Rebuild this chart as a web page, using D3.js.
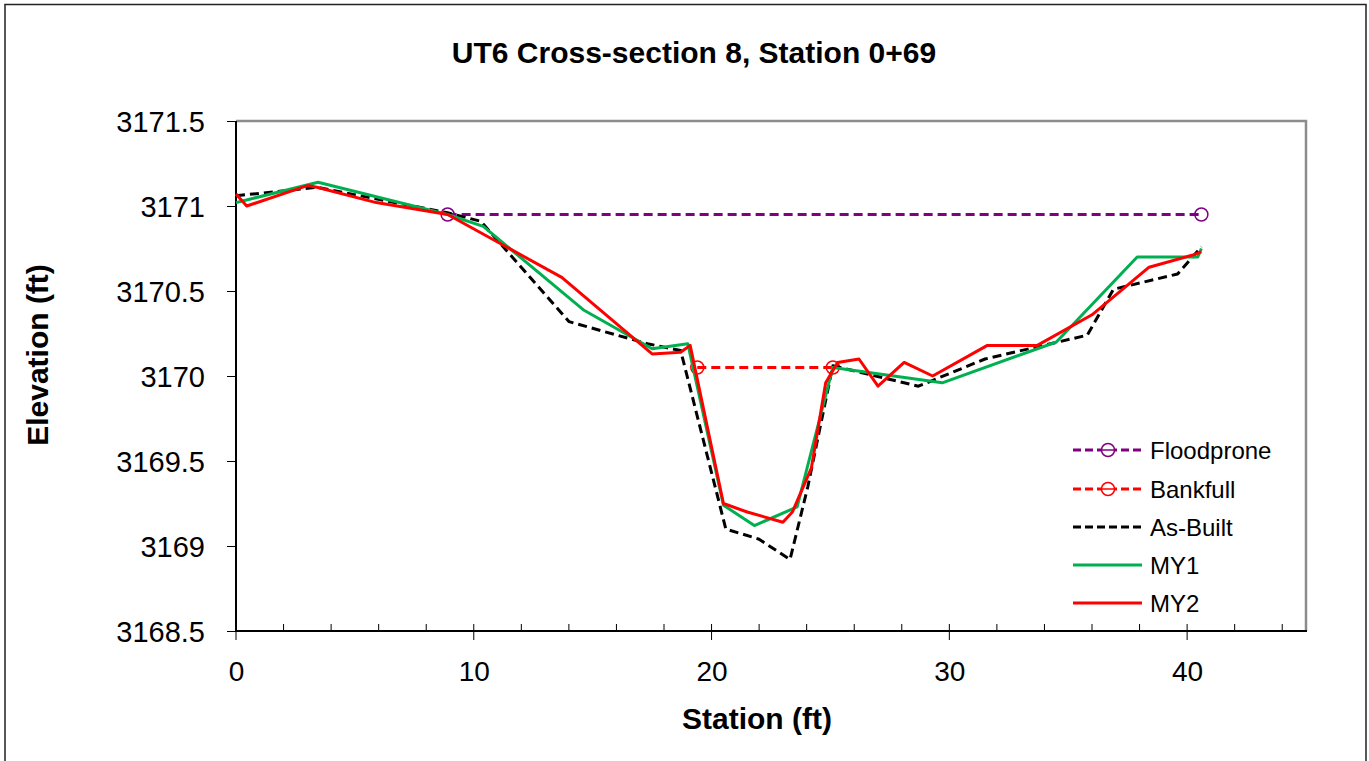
<!DOCTYPE html>
<html>
<head>
<meta charset="utf-8">
<script src="https://cdn.jsdelivr.net/npm/d3@7"></script>
<style>
  html, body { margin: 0; padding: 0; background: #fff; }
  svg { display: block; }
  text { font-family: "Liberation Sans", Arial, sans-serif; }
</style>
</head>
<body>
<script>
// ---- Data ----
const title = "UT6 Cross-section 8, Station 0+69";
const xTitle = "Station (ft)";
const yTitle = "Elevation (ft)";
const xTicks = [0, 10, 20, 30, 40];
const yTicks = [3168.5, 3169, 3169.5, 3170, 3170.5, 3171, 3171.5];
const xDomain = [0, 45];
const yDomain = [3168.5, 3171.5];

const floodprone = [[8.9, 3170.95], [40.6, 3170.95]];
const bankfull = [[19.4, 3170.05], [25.1, 3170.05]];
const asBuilt = [[0, 3171.06], [3.4, 3171.11], [8.9, 3170.96], [10.3, 3170.91], [14.0, 3170.32], [17.3, 3170.19],
  [18.7, 3170.15], [20.6, 3169.1], [22.0, 3169.04], [23.3, 3168.92], [24.05, 3169.35], [25.1, 3170.06],
  [28.7, 3169.94], [31.5, 3170.1], [35.8, 3170.24], [36.9, 3170.51], [39.6, 3170.6], [40.6, 3170.76]];
const my1 = [[0, 3171.02], [3.45, 3171.14], [8.9, 3170.95], [10.4, 3170.88], [14.6, 3170.39], [17.5, 3170.16],
  [19.0, 3170.19], [20.5, 3169.24], [21.8, 3169.12], [23.6, 3169.23], [25.1, 3170.05], [29.7, 3169.96],
  [34.5, 3170.2], [37.9, 3170.7], [40.45, 3170.7], [40.6, 3170.75]];
const my2 = [[0, 3171.07], [0.45, 3171.0], [3.0, 3171.12], [3.4, 3171.11], [5.9, 3171.02], [8.9, 3170.95],
  [13.7, 3170.58], [17.5, 3170.13], [18.7, 3170.14], [19.1, 3170.18], [20.5, 3169.25], [21.5, 3169.2],
  [23.0, 3169.14], [23.4, 3169.2], [24.2, 3169.46], [24.8, 3169.96], [25.3, 3170.08], [26.2, 3170.1],
  [27.0, 3169.94], [28.1, 3170.08], [29.3, 3170.0], [31.6, 3170.18], [33.7, 3170.18], [36.0, 3170.36],
  [38.4, 3170.64], [40.2, 3170.71], [40.6, 3170.73]];

const seriesNames = ["Floodprone", "Bankfull", "As-Built", "MY1", "MY2"];
const seriesData = [floodprone, bankfull, asBuilt, my1, my2];
const seriesColors = ["#800080", "#FF0000", "#000000", "#00B050", "#FF0000"];
const seriesDash = ["9,5", "9,5", "9,5", null, null];
const seriesMarker = [true, true, false, false, false];

// ---- Layout ----
const W = 1369, H = 761;
const plot = { left: 236, top: 121, right: 1306, bottom: 631 };

const svg = d3.select("body").append("svg").attr("width", W).attr("height", H);

// outer frame
svg.append("path")
  .attr("d", `M5,${H + 5} L5,4.5 L1366,4.5 L1366,${H + 5}`)
  .attr("fill", "none").attr("stroke", "#222").attr("stroke-width", 1.5);

const x = d3.scaleLinear().domain(xDomain).range([plot.left, plot.right]);
const y = d3.scaleLinear().domain(yDomain).range([plot.bottom, plot.top]);

// plot border: top and right gray
svg.append("path")
  .attr("d", `M${plot.left},${plot.top} L${plot.right},${plot.top} L${plot.right},${plot.bottom}`)
  .attr("fill", "none").attr("stroke", "#8c8c8c").attr("stroke-width", 2.5);

// Title
svg.append("text").attr("x", 694).attr("y", 63).attr("text-anchor", "middle")
  .attr("font-size", 30).attr("font-weight", "bold").text(title);

// X axis: minor ticks (inside)
const xMinor = d3.range(xDomain[0], xDomain[1] + 0.001, 2).filter(v => v % 10 !== 0);
svg.append("g").selectAll("line").data(xMinor).join("line")
  .attr("x1", d => x(d)).attr("x2", d => x(d))
  .attr("y1", plot.bottom).attr("y2", plot.bottom - 7)
  .attr("stroke", "#000").attr("stroke-width", 1);

const xAxis = d3.axisBottom(x).tickValues(xTicks).tickSize(0).tickFormat(d3.format("d"));
const gx = svg.append("g").attr("transform", `translate(0,${plot.bottom})`).call(xAxis);
gx.select(".domain").remove();
gx.selectAll("text").attr("font-size", 28).attr("font-family", "Liberation Sans, Arial, sans-serif")
  .attr("dy", 0).attr("y", 50).attr("fill", "#000");
svg.append("g").selectAll("line").data(d3.range(0, 46, 10)).join("line")
  .attr("x1", d => x(d)).attr("x2", d => x(d))
  .attr("y1", plot.bottom - 7).attr("y2", plot.bottom + 9)
  .attr("stroke", "#000").attr("stroke-width", 1);

// Y axis
const yAxis = d3.axisLeft(y).tickValues(yTicks).tickSize(9).tickPadding(22)
  .tickFormat(d => String(+d.toFixed(1)));
const gy = svg.append("g").attr("transform", `translate(${plot.left},0)`).call(yAxis);
gy.select(".domain").remove();
gy.selectAll("line").attr("stroke", "#000");
gy.selectAll("text").attr("font-size", 29).attr("font-family", "Liberation Sans, Arial, sans-serif")
  .attr("dy", "0.35em").attr("fill", "#000");

// axis lines
svg.append("line").attr("x1", plot.left).attr("x2", plot.left)
  .attr("y1", plot.top).attr("y2", plot.bottom + 1).attr("stroke", "#000").attr("stroke-width", 2);
svg.append("line").attr("x1", plot.left).attr("x2", plot.right + 1)
  .attr("y1", plot.bottom).attr("y2", plot.bottom).attr("stroke", "#000").attr("stroke-width", 2);

// Axis titles
svg.append("text").attr("x", 757).attr("y", 729).attr("text-anchor", "middle")
  .attr("font-size", 30).attr("font-weight", "bold").text(xTitle);
svg.append("text").attr("transform", `translate(48,355) rotate(-90)`).attr("text-anchor", "middle")
  .attr("font-size", 30).attr("font-weight", "bold").text(yTitle);

// Series
const line = d3.line().x(d => x(d[0])).y(d => y(d[1]));
seriesData.forEach((data, i) => {
  const g = svg.append("g");
  g.append("path").datum(data).attr("d", line)
    .attr("fill", "none").attr("stroke", seriesColors[i]).attr("stroke-width", 3)
    .attr("stroke-dasharray", seriesDash[i]).attr("stroke-linejoin", "round");
  if (seriesMarker[i]) {
    g.selectAll("circle").data(data).join("circle")
      .attr("cx", d => x(d[0])).attr("cy", d => y(d[1])).attr("r", 6.5)
      .attr("fill", "none").attr("stroke", seriesColors[i]).attr("stroke-width", 1.5);
  }
});

// Legend
const legY = [450, 489, 527, 565, 603];
const leg = svg.append("g");
seriesNames.forEach((name, i) => {
  const gy2 = legY[i];
  leg.append("line").attr("x1", 1073).attr("x2", 1142).attr("y1", gy2).attr("y2", gy2)
    .attr("stroke", seriesColors[i]).attr("stroke-width", 3)
    .attr("stroke-dasharray", seriesDash[i] ? "8,4" : null);
  if (seriesMarker[i]) {
    leg.append("circle").attr("cx", 1108).attr("cy", gy2).attr("r", 6.5)
      .attr("fill", "#fff").attr("stroke", seriesColors[i]).attr("stroke-width", 1.5);
    leg.append("line").attr("x1", 1101).attr("x2", 1115).attr("y1", gy2).attr("y2", gy2)
      .attr("stroke", seriesColors[i]).attr("stroke-width", 1.5);
  }
  leg.append("text").attr("x", 1150).attr("y", gy2).attr("dy", "0.36em")
    .attr("font-size", 24).text(name);
});
</script>
</body>
</html>
